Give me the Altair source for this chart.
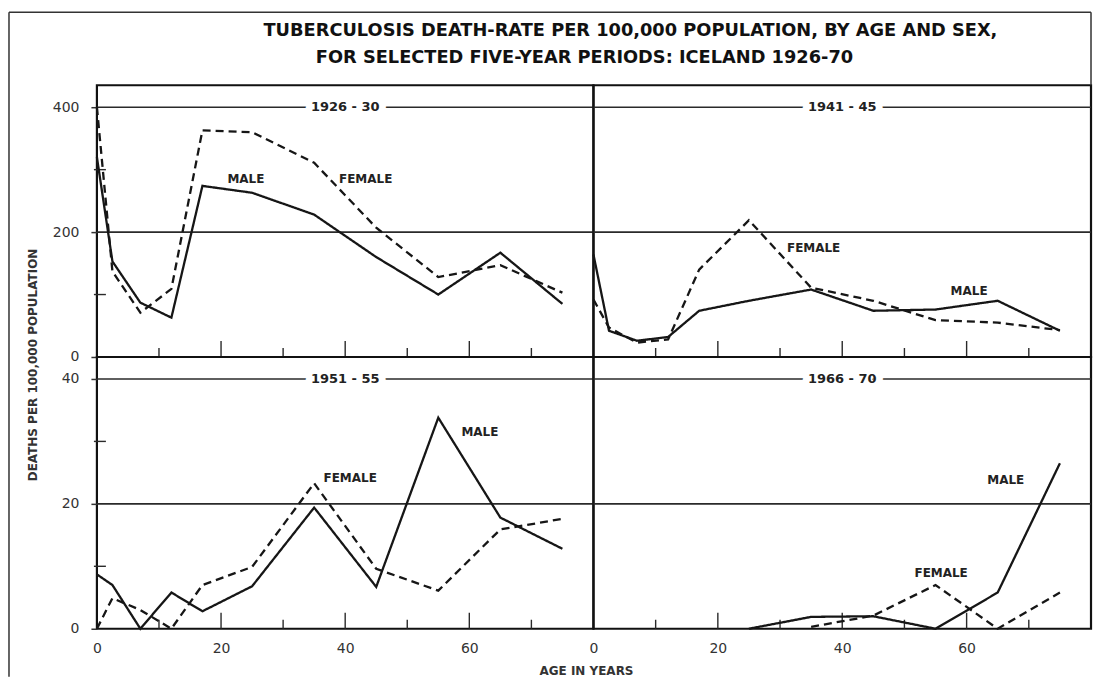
import altair as alt
import pandas as pd

# ---------------- data ----------------
AGES = [0, 2.5, 7, 12, 17, 25, 35, 45, 55, 65, 75]

MALE_1926_30 = [320, 153, 87, 63, 274, 263, 228, 160, 100, 167, 85]
FEMALE_1926_30 = [400, 137, 71, 109, 363, 360, 311, 207, 128, 147, 103]

MALE_1941_45 = [164, 42, 26, 32, 74, 90, 108, 74, 76, 90, 42]
FEMALE_1941_45 = [92, 47, 23, 28, 140, 219, 111, 90, 59, 55, 43]

MALE_1951_55 = [8.7, 7.0, 0, 5.8, 2.8, 6.8, 19.4, 6.7, 33.8, 17.8, 12.8]
FEMALE_1951_55 = [0, 4.9, 3.0, 0, 7.0, 9.9, 23.3, 9.6, 6.1, 15.9, 17.6]

MALE_1966_70 = [None, None, None, None, None, 0, 1.9, 2.0, 0, 5.8, 26.5]
FEMALE_1966_70 = [None, None, None, None, None, None, 0.3, 2.1, 7.0, 0, 5.8]

PERIODS = ["1926 - 30", "1941 - 45", "1951 - 55", "1966 - 70"]

# series labels written on the panels: (text, age, rate)
LABELS_1926_30 = [("MALE", 24, 285), ("FEMALE", 43.3, 285)]
LABELS_1941_45 = [("FEMALE", 35.4, 174), ("MALE", 60.4, 106)]
LABELS_1951_55 = [("FEMALE", 40.8, 24.2), ("MALE", 61.7, 31.5)]
LABELS_1966_70 = [("FEMALE", 55.9, 9.0), ("MALE", 66.3, 23.8)]

TOP_GRID = [200, 400]
TOP_MINOR = [100, 300]
BOTTOM_GRID = [20, 40]
BOTTOM_MINOR = [10, 30]
X_MAJOR = [20, 40, 60]
X_MINOR = [10, 30, 50, 70]
X_LABELS = [0, 20, 40, 60]

TITLE_1 = "TUBERCULOSIS DEATH-RATE PER 100,000 POPULATION, BY AGE AND SEX,"
TITLE_2 = "FOR SELECTED FIVE-YEAR PERIODS: ICELAND 1926-70"
Y_TITLE = "DEATHS PER 100,000 POPULATION"
X_TITLE = "AGE IN YEARS"

# ---------------- styling ----------------
FONT = "DejaVu Sans"
INK = "#161616"
W_L, W_R, H = 497, 498, 272
TOP_MAX, BOTTOM_MAX = 435.2, 43.52


def series_df(male, female):
    rows = []
    for sex, vals in (("MALE", male), ("FEMALE", female)):
        for a, v in zip(AGES, vals):
            if v is not None:
                rows.append({"x": a, "y": v, "sex": sex})
    return pd.DataFrame(rows)


def one(**kw):
    return pd.DataFrame({k: [v] for k, v in kw.items()})


def panel(period, male, female, labels, ymax, grid_vals, minor_vals,
          width, left, bottom, extra=()):
    xscale = alt.Scale(domain=[0, 80], nice=False, zero=False)
    yscale = alt.Scale(domain=[0, ymax], nice=False, zero=False)
    if bottom:
        xaxis = alt.Axis(values=X_LABELS, ticks=False, domain=False, grid=False,
                         labelPadding=13, labelFontSize=14, labelFont=FONT,
                         labelColor="#333", labelFlush=False, title=None)
    else:
        xaxis = None
    if left:
        yaxis = alt.Axis(values=[0] + grid_vals, tickSize=6, tickWidth=1.5,
                         tickColor="#333", domain=False, grid=False,
                         labelPadding=12, labelFontSize=14, labelFont=FONT,
                         labelColor="#333", labelFlush=False, title=None)
    else:
        yaxis = None

    def X(f):
        return alt.X(f, type="quantitative", scale=xscale, axis=xaxis)

    def Y(f):
        return alt.Y(f, type="quantitative", scale=yscale, axis=yaxis)

    layers = []
    layers.append(
        alt.Chart(pd.DataFrame({"y": grid_vals}))
        .mark_rule(color="#2a2a2a", strokeWidth=1.6)
        .encode(y=Y("y"), x=alt.value(0), x2=alt.value(width))
    )
    if left:
        layers.append(
            alt.Chart(pd.DataFrame({"y": minor_vals}))
            .mark_rule(color="#2a2a2a", strokeWidth=1.4)
            .encode(y=Y("y"), x=alt.value(-3), x2=alt.value(9))
        )
    layers.append(
        alt.Chart(pd.DataFrame({"x": X_MAJOR}))
        .mark_rule(color="#2a2a2a", strokeWidth=1.4)
        .encode(x=X("x"), y=alt.value(H), y2=alt.value(H - 16))
    )
    layers.append(
        alt.Chart(pd.DataFrame({"x": X_MINOR}))
        .mark_rule(color="#2a2a2a", strokeWidth=1.4)
        .encode(x=X("x"), y=alt.value(H), y2=alt.value(H - 9))
    )
    layers.append(
        alt.Chart(series_df(male, female))
        .mark_line(color=INK, strokeWidth=2.3)
        .encode(
            x=X("x"), y=Y("y"),
            strokeDash=alt.StrokeDash(
                "sex:N",
                scale=alt.Scale(domain=["MALE", "FEMALE"], range=[[1, 0], [8, 5]]),
                legend=None,
            ),
        )
    )
    pdf = one(x=40, y=grid_vals[-1], t=period)
    layers.append(
        alt.Chart(pdf)
        .mark_text(font=FONT, fontSize=13, fontWeight="bold", color="white",
                   stroke="white", strokeWidth=14, strokeJoin="round")
        .encode(x=X("x"), y=Y("y"), text="t:N")
    )
    layers.append(
        alt.Chart(pdf)
        .mark_text(font=FONT, fontSize=13, fontWeight="bold", color="#222")
        .encode(x=X("x"), y=Y("y"), text="t:N")
    )
    ldf = pd.DataFrame(labels, columns=["t", "x", "y"])
    layers.append(
        alt.Chart(ldf)
        .mark_text(font=FONT, fontSize=12, fontWeight="bold", color="#222")
        .encode(x=X("x"), y=Y("y"), text="t:N")
    )
    layers.extend(extra)
    return alt.layer(*layers).properties(width=width, height=H)


# ---------------- decorations (frame, titles) ----------------
frame_left = (alt.Chart(one(a=0)).mark_rule(color="#333", strokeWidth=1.5)
              .encode(x=alt.value(-88), y=alt.value(-73), y2=alt.value(592)))
frame_top = (alt.Chart(one(a=0)).mark_rule(color="#333", strokeWidth=1.5)
             .encode(x=alt.value(-88), x2=alt.value(W_L + W_R), y=alt.value(-73)))
frame_right = (alt.Chart(one(a=0)).mark_rule(color="#333", strokeWidth=1.5)
               .encode(x=alt.value(W_R), y=alt.value(-73), y2=alt.value(0)))
title1 = (alt.Chart(one(t=TITLE_1))
          .mark_text(font=FONT, fontSize=17.8, fontWeight="bold", color="#111",
                     align="center", baseline="middle")
          .encode(x=alt.value(534), y=alt.value(-54), text="t:N"))
title2 = (alt.Chart(one(t=TITLE_2))
          .mark_text(font=FONT, fontSize=17.8, fontWeight="bold", color="#111",
                     align="center", baseline="middle")
          .encode(x=alt.value(488), y=alt.value(-27), text="t:N"))
ytitle = (alt.Chart(one(t=Y_TITLE))
          .mark_text(font=FONT, fontSize=12, fontWeight="bold", color="#333",
                     align="center", baseline="middle", angle=270)
          .encode(x=alt.value(-64), y=alt.value(280), text="t:N"))
xtitle = (alt.Chart(one(t=X_TITLE))
          .mark_text(font=FONT, fontSize=12, fontWeight="bold", color="#333",
                     align="center", baseline="middle")
          .encode(x=alt.value(490), y=alt.value(314), text="t:N"))

tl = panel(PERIODS[0], MALE_1926_30, FEMALE_1926_30, LABELS_1926_30, TOP_MAX,
           TOP_GRID, TOP_MINOR, W_L, True, False,
           extra=(frame_left, frame_top, title1, title2, ytitle))
tr = panel(PERIODS[1], MALE_1941_45, FEMALE_1941_45, LABELS_1941_45, TOP_MAX,
           TOP_GRID, TOP_MINOR, W_R, False, False, extra=(frame_right,))
bl = panel(PERIODS[2], MALE_1951_55, FEMALE_1951_55, LABELS_1951_55, BOTTOM_MAX,
           BOTTOM_GRID, BOTTOM_MINOR, W_L, True, True, extra=(xtitle,))
br = panel(PERIODS[3], MALE_1966_70, FEMALE_1966_70, LABELS_1966_70, BOTTOM_MAX,
           BOTTOM_GRID, BOTTOM_MINOR, W_R, False, True)

chart = (
    alt.concat(tl, tr, bl, br, columns=2, spacing=0, bounds="flush")
    .properties(padding={"left": 7, "top": 10, "right": 4, "bottom": 0},
                background="white")
    .configure_view(stroke="#111", strokeWidth=2.2)
)

chart.save("out.html", embed_options={"renderer": "svg", "actions": False})
